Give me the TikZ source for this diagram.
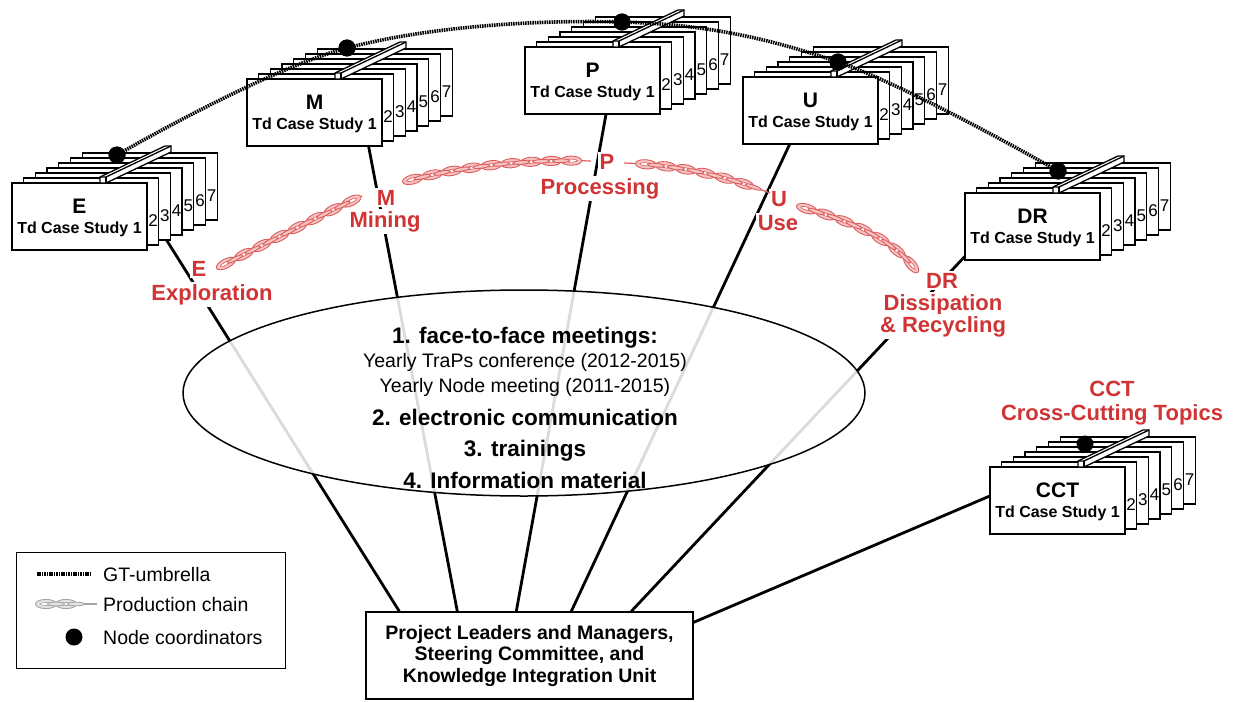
\documentclass[tikz,border=0pt]{standalone}
\usepackage{fontspec}
\setmainfont{Liberation Sans}
\usetikzlibrary{calc,decorations.markings,shapes.geometric}
\definecolor{lblred}{RGB}{208,52,52}
\definecolor{chline}{RGB}{222,92,92}
\definecolor{chfill}{RGB}{245,196,196}
\definecolor{lgline}{RGB}{165,165,165}
\definecolor{lgfill}{RGB}{228,228,228}
\newcommand\fsz[2]{\fontsize{#1}{#2}\selectfont}
\newcommand\chainface{%
  \filldraw[chainlink] (0pt,0pt) ellipse [x radius=10.5pt, y radius=4.6pt];
  \filldraw[chainhole] (0pt,0pt) ellipse [x radius=6.2pt, y radius=1.5pt];}
\newcommand\chainside{%
  \filldraw[chainlink] (0pt,0pt) ellipse [x radius=8.5pt, y radius=1.8pt];}
% #1 name, #2 X, #3 Y (top-left of front card, image px), #4 title
\newcommand\cardstack[4]{%
  \foreach \k in {6,5,4,3,2,1}{%
    \draw[card] ({#2+\k*11.7},{#3-\k*5}) rectangle ++(135,67);
    \node[cardnum] at ({#2+129.5+\k*11.7},{#3-\k*5+43}) {\the\numexpr\k+1\relax};
  }
  \node[cardfront, anchor=north west] (#1) at (#2,#3) {};
  \node[cardtitle] (#1t) at ($(#1.north)+(0,23)$) {#4};
  \node[cardsub] (#1s) at ($(#1.north)+(0,46)$) {Td Case Study 1};
  \draw[card] ({#2+88},#3) -- ++(0,-6) -- ({#2+153},{#3-37}) -- ++(6,0) -- ++(0,6) -- ({#2+94},#3) -- cycle;
  \draw[cardedge] ({#2+88},{#3-6}) -- ++(6,0) -- ({#2+159},{#3-37});
  \draw[cardedge] ({#2+94},{#3-6}) -- ++(0,6);
}
\begin{document}
\begin{tikzpicture}[x=1pt,y=-1pt,
  card/.style={draw, fill=white, line width=1.3pt, line join=miter},
  cardedge/.style={draw, line width=1.3pt},
  cardfront/.style={draw, fill=white, line width=1.3pt, rectangle, minimum width=135pt, minimum height=67pt, inner sep=0pt, outer sep=0pt},
  cardtitle/.style={font=\fsz{21}{23}\bfseries, inner sep=0pt},
  cardsub/.style={font=\fsz{16}{17}\bfseries, inner sep=0pt},
  cardnum/.style={font=\fsz{17}{18}, inner sep=0pt},
  conn/.style={line width=2.8pt, black},
  redlbl/.style={font=\fsz{22}{23}\bfseries, text=lblred, fill=white, inner sep=2pt, anchor=base},
  bt/.style={font=\fsz{22.5}{24}\bfseries, anchor=base, inner sep=0pt},
  rt/.style={font=\fsz{19.5}{21}, anchor=base, inner sep=0pt},
  lgt/.style={font=\fsz{19.5}{21}, anchor=base west, inner sep=0pt},
  dot/.style={circle, fill=black, minimum size=17pt, inner sep=0pt},
  umbrella/.style={line width=3.6pt, dash pattern=on 1.5pt off 0.9pt, black},
  chainlink/.style={fill=chfill, draw=chline, line width=0.9pt},
  chainhole/.style={fill=white, draw=chline, line width=0.6pt},
  chain/.style 2 args={draw=chline, line width=1.2pt,
    postaction={decorate, decoration={markings,
      mark=between positions #1 and #2 step 20pt with {\chainface},
      mark=between positions #1+10pt and #2 step 20pt with {\chainside}}}}
]
\useasboundingbox (0,0) rectangle (1238,701);

% bottom box
\node[draw, fill=white, line width=1.4pt, minimum width=327pt, minimum height=87pt, inner sep=0pt,
      align=center, font=\fsz{19.5}{21.5}\bfseries] (plm) at (529.5,655.5)
  {Project Leaders and Managers,\\Steering Committee, and\\Knowledge Integration Unit};

% start points of the connectors (hidden under the card stacks)
\coordinate (Ebot) at (164,236);
\coordinate (Mbot) at (367,138);
\coordinate (Pbot) at (607.5,106);
\coordinate (Ubot) at (793.5,136);
\coordinate (DRbot) at (969,252);
\coordinate (CCTside) at (998,492.5);

% connectors
\draw[conn] (Ebot) -- ($(plm.north west)+(34,0)$);
\draw[conn] (Mbot) -- ($(plm.north west)+(92,0)$);
\draw[conn] (Pbot) -- ($(plm.north west)+(151,0)$);
\draw[conn] (Ubot) -- ($(plm.north west)+(206,0)$);
\draw[conn] (DRbot) -- ($(plm.north west)+(266,0)$);
\draw[conn] (CCTside) -- ($(plm.north east)+(0,11)$);

% ellipse of communication
\node[ellipse, draw, line width=1.5pt, minimum width=682pt, minimum height=206pt, fill=white,
      fill opacity=0.86, draw opacity=1, inner sep=0pt] (meet) at (524,393) {};
\node[bt] (m1) at (525,343) {1. face-to-face meetings:};
\node[rt] (m2) at (525,367) {Yearly TraPs conference (2012-2015)};
\node[rt] (m3) at (525,392) {Yearly Node meeting (2011-2015)};
\node[bt] (m4) at (525,425) {2. electronic communication};
\node[bt] (m5) at (525,456) {3. trainings};
\node[bt] (m6) at (525,488) {4. Information material};

% card stacks
\cardstack{E}{12}{183}{E}
\cardstack{M}{247}{79}{M}
\cardstack{P}{525}{47}{P}
\cardstack{U}{743}{77}{U}
\cardstack{DR}{965}{193}{DR}
\cardstack{CCT}{990}{467}{CCT}

% red labels
\node[redlbl] (lE1) at (199,276) {E};
\node[redlbl] (lE2) at (212,300) {Exploration};
\node[redlbl] (lM1) at (386,205) {M};
\node[redlbl] (lM2) at (385,227) {Mining};
\node[redlbl] (lP1) at (607,169) {P};
\node[redlbl] (lP2) at (600,194) {Processing};
\node[redlbl] (lU1) at (779,206) {U};
\node[redlbl] (lU2) at (778,230) {Use};
\node[redlbl] (lD1) at (942,288) {DR};
\node[redlbl] (lD2) at (943,310) {Dissipation};
\node[redlbl] (lD3) at (943,332) {\& Recycling};
\node[redlbl] (lC1) at (1112,396) {CCT};
\node[redlbl] (lC2) at (1112,420) {Cross-Cutting Topics};

% production chain
\draw[chain={10pt}{-8pt}] (217,268) .. controls (265,244) and (315,218) .. (362,196);
\draw[chain={10pt}{-14pt}] (403,182) .. controls (460,166) and (530,159) .. (591,161);
\draw[chain={22pt}{-8pt}] (624,163) .. controls (680,165) and (725,176) .. (770,193);
\draw[chain={10pt}{-8pt}] (797,206) .. controls (850,220) and (895,240) .. (917,272);

% GT umbrella and node coordinators
\node[dot] (Edot) at (117,155) {};
\node[dot] (Mdot) at (347,48) {};
\node[dot] (Pdot) at (622,22) {};
\node[dot] (Udot) at (838,62) {};
\node[dot] (DRdot) at (1058,171) {};
\draw[umbrella] plot[smooth, tension=0.6] coordinates {(Edot.center) (Mdot.center) (Pdot.center) (Udot.center) (DRdot.center)};
\node[dot] at (Edot) {};
\node[dot] at (Mdot) {};
\node[dot] at (Pdot) {};
\node[dot] at (Udot) {};
\node[dot] at (DRdot) {};
\node[dot] (CCTdot) at (1085,444) {};

% legend
\node[draw, line width=1.3pt, minimum width=269pt, minimum height=116pt, inner sep=0pt, anchor=north west] (legend) at (16,552) {};
\draw[umbrella] (37,574) -- (91,574);
\node[lgt] (lg1) at (103,581) {GT-umbrella};
\begin{scope}[chainlink/.style={fill=lgfill, draw=lgline, line width=0.9pt},
              chainhole/.style={fill=white, draw=lgline, line width=0.6pt}]
\draw[chain={11pt}{-20pt}, draw=lgline] (35,604) -- (97,604);
\end{scope}
\node[lgt] (lg2) at (103,611) {Production chain};
\node[dot] (lgdot) at (74,637) {};
\node[lgt] (lg3) at (103,644) {Node coordinators};
\end{tikzpicture}
\end{document}
